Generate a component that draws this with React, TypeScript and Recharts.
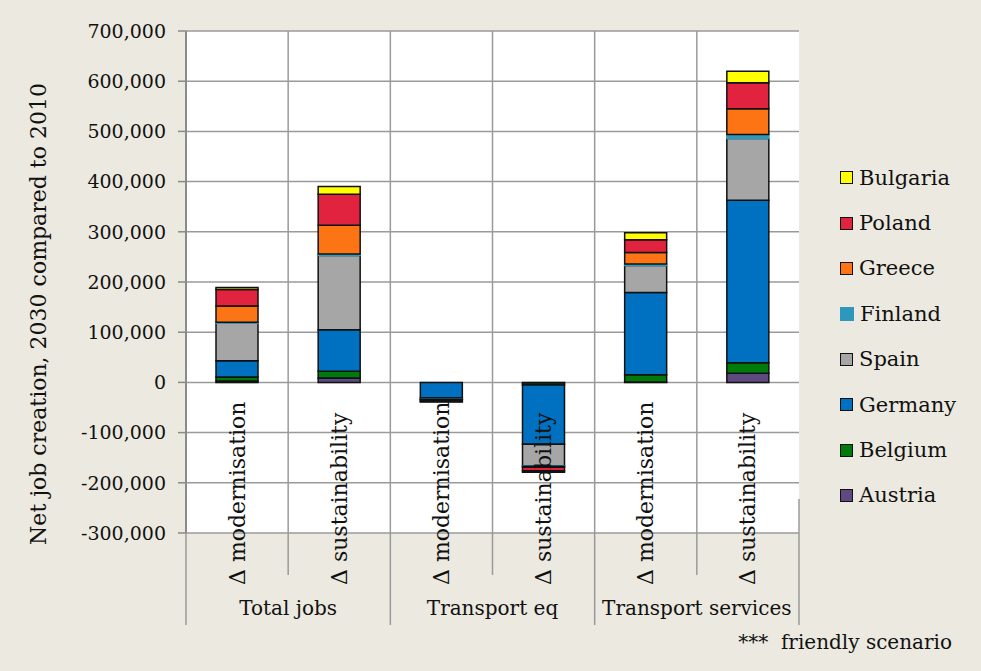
import React from 'react';
import { BarChart, Bar, XAxis, YAxis, CartesianGrid, Legend } from 'recharts';

const categories = [
  'Δ modernisation',
  'Δ sustainability',
  'Δ modernisation',
  'Δ sustainability',
  'Δ modernisation',
  'Δ sustainability',
];
const groups = ['Total jobs', 'Transport eq', 'Transport services'];
const yTicks = [-300000, -200000, -100000, 0, 100000, 200000, 300000, 400000, 500000, 600000, 700000];

// net jobs per country, one value per category above
const austria = [3000, 9000, 0, -1000, 1000, 18000];
const belgium = [8000, 13000, 0, -4000, 14000, 21000];
const germany = [32000, 83000, -31000, -118000, 164000, 324000];
const spain = [75000, 148000, -2000, -43000, 54000, 123000];
const finland = [2000, 3000, -500, -1000, 3000, 8000];
const greece = [32000, 57000, -1500, -2000, 23000, 51000];
const poland = [33000, 62000, -3000, -7000, 25000, 52000];
const bulgaria = [4000, 15000, -1000, -3000, 14000, 23000];

const series = [
  { name: 'Austria', values: austria, color: '#5E4A80' },
  { name: 'Belgium', values: belgium, color: '#007A0A' },
  { name: 'Germany', values: germany, color: '#0070C0' },
  { name: 'Spain', values: spain, color: '#A6A6A6' },
  { name: 'Finland', values: finland, color: '#2E98BC' },
  { name: 'Greece', values: greece, color: '#FC7414' },
  { name: 'Poland', values: poland, color: '#E2233F' },
  { name: 'Bulgaria', values: bulgaria, color: '#FFFF00' },
];

const data = categories.map((cat, i) => {
  const row: Record<string, number | string> = { idx: i, cat };
  series.forEach((s) => {
    row[s.name] = s.values[i];
  });
  return row;
});

const W = 981;
const H = 671;
const PLOT_LEFT = 186;
const PLOT_RIGHT = 799;
const PLOT_TOP = 31;
const PLOT_BOTTOM = 533;
const SLOT = (PLOT_RIGHT - PLOT_LEFT) / categories.length;
const FONT = '"DejaVu Serif", serif';
const BG = '#ECE9E0';
const LINE = '#9a9a9a';

const fmt = (v: number) => v.toLocaleString('en-US');

function CategoryTick(props: any) {
  const { x, index } = props;
  const left = x - SLOT / 2;
  const right = x + SLOT / 2;
  const groupStart = index % 2 === 0;
  return (
    <g>
      <line x1={left} x2={left} y1={PLOT_BOTTOM} y2={groupStart ? PLOT_BOTTOM + 92 : PLOT_BOTTOM + 42} stroke={LINE} strokeWidth={1.5} />
      {index === categories.length - 1 && (
        <line x1={right} x2={right} y1={PLOT_BOTTOM - 34} y2={PLOT_BOTTOM + 92} stroke={LINE} strokeWidth={1.5} />
      )}
      <text
        transform={`translate(${x},${PLOT_BOTTOM + 52}) rotate(-90)`}
        textAnchor="start"
        dominantBaseline="central"
        fontFamily={FONT}
        fontSize={22}
        fill="#111"
      >
        {categories[index]}
      </text>
      {index % 2 === 1 && (
        <text x={left} y={PLOT_BOTTOM + 82} textAnchor="middle" fontFamily={FONT} fontSize={20} fill="#111">
          {groups[(index - 1) / 2]}
        </text>
      )}
    </g>
  );
}

function renderLegend() {
  return (
    <div style={{ fontFamily: FONT, fontSize: 21, color: '#111' }}>
      {[...series].reverse().map((s) => (
        <div key={s.name} style={{ height: 45.4, display: 'flex', alignItems: 'center' }}>
          <span
            style={{
              display: 'inline-block',
              width: s.name === 'Finland' ? 14 : 11,
              height: s.name === 'Finland' ? 14 : 11,
              background: s.color,
              border: s.name === 'Finland' ? 'none' : '1.5px solid #111',
              marginRight: 6,
            }}
          />
          {s.name}
        </div>
      ))}
    </div>
  );
}

function TitleLabel() {
  return (
    <text
      transform={`translate(38,314) rotate(-90)`}
      textAnchor="middle"
      dominantBaseline="central"
      fontFamily={FONT}
      fontSize={22}
      fill="#111"
    >
      Net job creation, 2030 compared to 2010
    </text>
  );
}

export default function App() {
  return (
    <div style={{ position: 'absolute', left: 0, top: 0, width: W, height: H, background: BG }}>
      <BarChart
        width={W}
        height={H}
        data={data}
        stackOffset="sign"
        barSize={42}
        margin={{ top: PLOT_TOP, right: W - PLOT_RIGHT, bottom: H - PLOT_BOTTOM - 90, left: 0 }}
      >
        <CartesianGrid
          fill="#fff"
          stroke={LINE}
          strokeWidth={1.5}
          verticalCoordinatesGenerator={({ offset }: any) =>
            categories.slice(1).map((_, i) => offset.left + ((i + 1) * offset.width) / categories.length)
          }
        />
        <XAxis
          dataKey="idx"
          height={90}
          axisLine={false}
          tickLine={false}
          tickSize={0}
          interval={0}
          tick={<CategoryTick />}
        />
        <YAxis
          width={PLOT_LEFT}
          domain={[-300000, 700000]}
          ticks={yTicks}
          interval={0}
          tickFormatter={fmt}
          axisLine={{ stroke: '#8a8a8a', strokeWidth: 2 }}
          tickLine={{ stroke: '#8a8a8a', strokeWidth: 1.5 }}
          tickSize={8}
          tickMargin={12}
          tick={{ fontFamily: FONT, fontSize: 19, fill: '#111' }}
          label={<TitleLabel />}
        />
        <Legend
          layout="vertical"
          align="center"
          verticalAlign="middle"
          wrapperStyle={{ left: 840, top: 155, width: 140 }}
          content={renderLegend}
        />
        {series.map((s) => (
          <Bar
            key={s.name}
            dataKey={s.name}
            stackId="a"
            fill={s.color}
            stroke={s.name === 'Finland' ? s.color : '#111'}
            strokeWidth={1.5}
            isAnimationActive={false}
          />
        ))}
      </BarChart>
      <div
        style={{
          position: 'absolute',
          right: W - 952,
          top: 630,
          fontFamily: FONT,
          fontSize: 20,
          color: '#111',
          whiteSpace: 'nowrap',
        }}
      >
        ***&nbsp; friendly scenario
      </div>
    </div>
  );
}
